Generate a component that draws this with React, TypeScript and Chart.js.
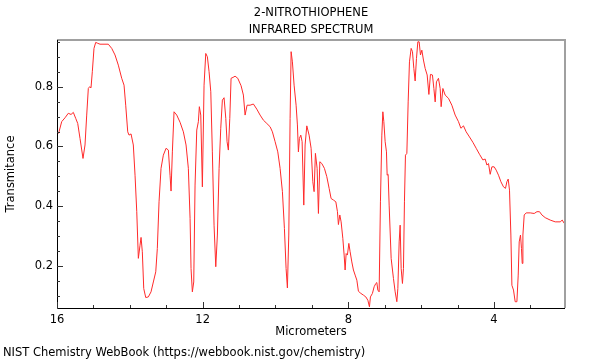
import React, { useEffect, useRef } from "react";
import { Chart, registerables } from "chart.js";

Chart.register(...registerables);

const titleLines = ["2-NITROTHIOPHENE", "INFRARED SPECTRUM"];
const xAxisTitle = "Micrometers";
const yAxisTitle = "Transmitance";
const footer = "NIST Chemistry WebBook (https://webbook.nist.gov/chemistry)";

const xMajorTicks = [16, 12, 8, 4];
const xMinorTicks = [15, 14, 13, 11, 10, 9, 7, 6, 5, 3];
const yMajorTicks = [0.2, 0.4, 0.6, 0.8];
const yMinorTicks = [0.1, 0.15, 0.25, 0.3, 0.35, 0.45, 0.5, 0.55, 0.65, 0.7, 0.75, 0.85, 0.9, 0.95];

const wavelength = [
  16.0, 15.945, 15.871, 15.78, 15.69, 15.615, 15.552, 15.486, 15.431, 15.368,
  15.286, 15.231, 15.184, 15.14, 15.102, 15.066, 15.03, 14.984, 14.937, 14.882,
  14.819, 14.591, 14.497, 14.407, 14.316, 14.223, 14.159, 14.113, 14.058, 14.022,
  13.967, 13.904, 13.857, 13.81, 13.766, 13.72, 13.692, 13.657, 13.618, 13.563,
  13.492, 13.418, 13.354, 13.288, 13.245, 13.198, 13.143, 13.08, 13.005, 12.942,
  12.896, 12.868, 12.832, 12.786, 12.712, 12.621, 12.53, 12.456, 12.393, 12.346,
  12.319, 12.283, 12.245, 12.209, 12.162, 12.118, 12.091, 12.052, 12.008, 11.962,
  11.915, 11.871, 11.824, 11.777, 11.734, 11.687, 11.64, 11.596, 11.549, 11.503,
  11.459, 11.412, 11.365, 11.33, 11.294, 11.255, 11.22, 11.165, 11.11, 11.036,
  10.945, 10.882, 10.835, 10.78, 10.698, 10.607, 10.514, 10.423, 10.332, 10.239,
  10.148, 10.085, 10.011, 9.937, 9.874, 9.81, 9.755, 9.709, 9.673, 9.635,
  9.599, 9.571, 9.536, 9.489, 9.434, 9.398, 9.371, 9.343, 9.305, 9.269,
  9.223, 9.187, 9.14, 9.077, 9.022, 8.975, 8.94, 8.904, 8.857, 8.821,
  8.783, 8.728, 8.657, 8.591, 8.527, 8.473, 8.409, 8.343, 8.299, 8.272,
  8.234, 8.198, 8.151, 8.115, 8.088, 8.06, 8.025, 7.986, 7.951, 7.904,
  7.86, 7.813, 7.766, 7.723, 7.657, 7.585, 7.519, 7.464, 7.42, 7.393,
  7.338, 7.291, 7.245, 7.217, 7.19, 7.154, 7.118, 7.08, 7.052, 7.025,
  6.989, 6.953, 6.934, 6.907, 6.879, 6.824, 6.761, 6.714, 6.668, 6.64,
  6.604, 6.577, 6.549, 6.514, 6.486, 6.459, 6.431, 6.393, 6.357, 6.321,
  6.275, 6.239, 6.201, 6.165, 6.129, 6.091, 6.055, 6.019, 5.981, 5.937,
  5.89, 5.835, 5.788, 5.745, 5.69, 5.651, 5.615, 5.58, 5.525, 5.478,
  5.451, 5.404, 5.341, 5.25, 5.157, 5.066, 4.975, 4.909, 4.838, 4.764,
  4.673, 4.58, 4.489, 4.398, 4.305, 4.242, 4.195, 4.151, 4.104, 4.058,
  3.995, 3.94, 3.876, 3.81, 3.739, 3.684, 3.646, 3.61, 3.574, 3.536,
  3.508, 3.464, 3.418, 3.371, 3.335, 3.308, 3.272, 3.245, 3.225, 3.206,
  3.17, 3.115, 3.005, 2.896, 2.821, 2.75, 2.684, 2.593, 2.456, 2.319,
  2.181, 2.126, 2.071, 2.05,
];

const transmittance = [
  0.638, 0.649, 0.683, 0.696, 0.711, 0.707, 0.714, 0.694, 0.677, 0.627,
  0.56, 0.605, 0.705, 0.794, 0.8, 0.796, 0.85, 0.928, 0.948, 0.945,
  0.942, 0.942, 0.928, 0.906, 0.872, 0.828, 0.805, 0.738, 0.649, 0.638,
  0.642, 0.605, 0.504, 0.382, 0.226, 0.27, 0.296, 0.248, 0.125, 0.095,
  0.097, 0.114, 0.147, 0.181, 0.259, 0.415, 0.527, 0.571, 0.594, 0.588,
  0.504, 0.451, 0.582, 0.716, 0.705, 0.681, 0.649, 0.605, 0.527, 0.36,
  0.192, 0.114, 0.147, 0.471, 0.655, 0.683, 0.733, 0.705, 0.465, 0.805,
  0.911, 0.9, 0.85, 0.783, 0.582, 0.337, 0.198, 0.304, 0.527, 0.661,
  0.755, 0.763, 0.694, 0.616, 0.588, 0.694, 0.828, 0.831, 0.835, 0.828,
  0.803, 0.772, 0.705, 0.738, 0.738, 0.742, 0.725, 0.705, 0.688, 0.677,
  0.666, 0.649, 0.616, 0.582, 0.527, 0.449, 0.326, 0.192, 0.127, 0.304,
  0.694, 0.917, 0.883, 0.805, 0.738, 0.672, 0.582, 0.627, 0.638, 0.616,
  0.404, 0.605, 0.669, 0.638, 0.594, 0.482, 0.449, 0.577, 0.527, 0.376,
  0.549, 0.543, 0.527, 0.499, 0.46, 0.426, 0.421, 0.415, 0.382, 0.339,
  0.371, 0.348, 0.293, 0.237, 0.187, 0.242, 0.237, 0.276, 0.248, 0.214,
  0.187, 0.17, 0.153, 0.116, 0.109, 0.103, 0.097, 0.086, 0.064, 0.097,
  0.109, 0.131, 0.142, 0.145, 0.12, 0.114, 0.415, 0.638, 0.716, 0.683,
  0.616, 0.582, 0.504, 0.507, 0.404, 0.226, 0.159, 0.114, 0.081, 0.125,
  0.281, 0.337, 0.192, 0.142, 0.192, 0.415, 0.571, 0.577, 0.749, 0.883,
  0.928, 0.917, 0.861, 0.819, 0.894, 0.95, 0.95, 0.906, 0.922, 0.889,
  0.861, 0.839, 0.774, 0.841, 0.839, 0.794, 0.749, 0.816, 0.828, 0.794,
  0.733, 0.794, 0.772, 0.761, 0.738, 0.705, 0.683, 0.661, 0.669, 0.649,
  0.632, 0.614, 0.594, 0.574, 0.555, 0.558, 0.538, 0.543, 0.507, 0.532,
  0.532, 0.521, 0.504, 0.482, 0.465, 0.46, 0.482, 0.491, 0.454, 0.304,
  0.136, 0.12, 0.081, 0.081, 0.17, 0.281, 0.304, 0.259, 0.209, 0.304,
  0.371, 0.378, 0.378, 0.376, 0.382, 0.382, 0.371, 0.362, 0.354, 0.348,
  0.348, 0.354, 0.343, 0.345,
];

const FONT = "'DejaVu Sans', sans-serif";
const FONT_SIZE = 11.5;

const framePlugin = {
  id: "framePlugin",
  afterDraw(chart: any) {
    const { ctx, chartArea } = chart;
    const { left, right, top, bottom } = chartArea;
    const xs = chart.scales.x;
    const ys = chart.scales.y;
    ctx.save();
    // top & right spines (gray)
    ctx.strokeStyle = "#a0a0a0";
    ctx.lineWidth = 2;
    ctx.beginPath();
    ctx.moveTo(left, top);
    ctx.lineTo(right, top);
    ctx.lineTo(right, bottom);
    ctx.stroke();
    // left & bottom spines (black)
    ctx.strokeStyle = "#000";
    ctx.lineWidth = 1;
    ctx.beginPath();
    ctx.moveTo(left + 0.5, top);
    ctx.lineTo(left + 0.5, bottom + 0.5);
    ctx.lineTo(right, bottom + 0.5);
    ctx.stroke();
    // ticks
    ctx.strokeStyle = "#333";
    ctx.lineWidth = 1;
    ctx.beginPath();
    xMajorTicks.forEach((v) => {
      const p = Math.round(xs.getPixelForValue(v)) + 0.5;
      ctx.moveTo(p, bottom);
      ctx.lineTo(p, bottom - 6);
    });
    xMinorTicks.forEach((v) => {
      const p = Math.round(xs.getPixelForValue(v)) + 0.5;
      ctx.moveTo(p, bottom);
      ctx.lineTo(p, bottom - 3);
    });
    yMajorTicks.forEach((v) => {
      const p = Math.round(ys.getPixelForValue(v)) + 0.5;
      ctx.moveTo(left, p);
      ctx.lineTo(left + 6, p);
    });
    yMinorTicks.forEach((v) => {
      const p = Math.round(ys.getPixelForValue(v)) + 0.5;
      ctx.moveTo(left, p);
      ctx.lineTo(left + 3, p);
    });
    ctx.stroke();

    // texts
    const cx = (left + right) / 2;
    const cy = (top + bottom) / 2;
    ctx.fillStyle = "#000";
    ctx.font = `${FONT_SIZE}px ${FONT}`;
    ctx.textAlign = "center";
    ctx.textBaseline = "middle";
    ctx.fillText(titleLines[0], cx, 13);
    ctx.fillText(titleLines[1], cx, 30);
    ctx.fillText(xAxisTitle, cx, 332);
    ctx.textAlign = "left";
    ctx.fillText(footer, 3, 353);
    ctx.save();
    ctx.translate(11, cy);
    ctx.rotate(-Math.PI / 2);
    ctx.textAlign = "center";
    ctx.fillText(yAxisTitle, 0, 0);
    ctx.restore();
    ctx.restore();
  },
};

export default function App() {
  const ref = useRef<HTMLCanvasElement | null>(null);
  useEffect(() => {
    if (!ref.current) return;
    const points = wavelength.map((w, i) => ({ x: w, y: transmittance[i] }));
    const chart = new Chart(ref.current, {
      type: "line",
      data: {
        datasets: [
          {
            data: points,
            borderColor: "#ff2a2a",
            borderWidth: 1,
            pointRadius: 0,
            tension: 0,
            fill: false,
          },
        ],
      },
      options: {
        animation: false,
        responsive: false,
        devicePixelRatio: 1,
        layout: { padding: { left: 0, top: 40, right: 35, bottom: 0 } },
        plugins: { legend: { display: false }, tooltip: { enabled: false }, title: { display: false } },
        scales: {
          x: {
            type: "linear",
            reverse: true,
            min: 2.05,
            max: 16,
            grid: { display: false, drawTicks: false },
            border: { display: false },
            ticks: {
              padding: 5,
              color: "#000",
              font: { family: FONT, size: FONT_SIZE },
              callback: (v: any) => String(v),
            },
            afterBuildTicks: (scale: any) => {
              scale.ticks = xMajorTicks.map((v) => ({ value: v }));
            },
            afterFit: (scale: any) => {
              scale.height = 52;
            },
          },
          y: {
            type: "linear",
            min: 0.06,
            max: 0.956,
            grid: { display: false, drawTicks: false },
            border: { display: false },
            ticks: {
              padding: 4,
              color: "#000",
              font: { family: FONT, size: FONT_SIZE },
              callback: (v: any) => Number(v).toFixed(1),
            },
            afterBuildTicks: (scale: any) => {
              scale.ticks = yMajorTicks.map((v) => ({ value: v }));
            },
            afterFit: (scale: any) => {
              scale.width = 57;
            },
          },
        },
      },
      plugins: [framePlugin],
    });
    return () => chart.destroy();
  }, []);
  return (
    <div style={{ position: "fixed", left: 0, top: 0, width: 600, height: 360, background: "#fff" }}>
      <canvas ref={ref} width={600} height={360} />
    </div>
  );
}
